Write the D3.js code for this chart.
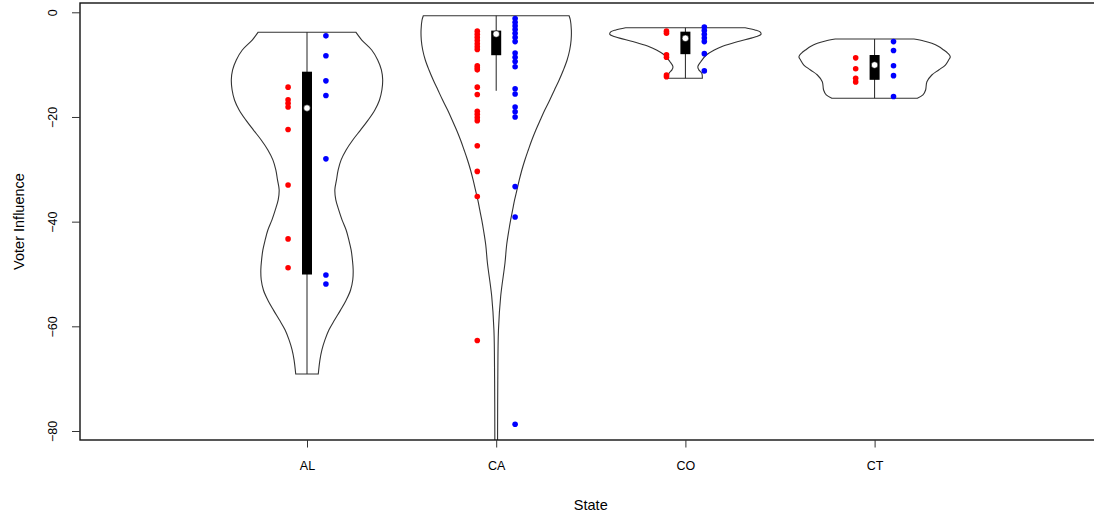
<!DOCTYPE html>
<html lang="en">
<head>
    <meta charset="UTF-8">
    <title>Voter Influence by State</title>
    <style>
        body {
            margin: 0;
            padding: 0;
            background-color: #ffffff;
        }
        svg {
            display: block;
            font-family: "Liberation Sans", Arial, sans-serif;
        }
        .violin {
            fill: #ffffff;
            stroke: #333333;
            stroke-width: 1.1px;
        }
        .whisker {
            stroke: #222222;
            stroke-width: 1px;
        }
        .box {
            fill: #000000;
        }
        .median {
            fill: #ffffff;
            stroke: #000000;
            stroke-width: 0.6px;
        }
        .frame {
            fill: none;
            stroke: #111111;
            stroke-width: 1.4px;
        }
        .axis path.domain {
            display: none;
        }
        .axis line {
            stroke: #333333;
        }
        .axis text {
            font-size: 12.5px;
            fill: #000000;
        }
        .axis-title {
            font-size: 14.5px;
            fill: #000000;
        }
    </style>
</head>
<body>
    <div class="chart"></div>

    <script src="https://d3js.org/d3.v7.min.js"></script>
    <script>
        const width = 1094;
        const height = 514;
        const plot = { left: 80, top: 3, right: 1102, bottom: 440 };

        // categories and axis ticks
        const states = ["AL", "CA", "CO", "CT"];
        const yTicks = [0, -20, -40, -60, -80];

        // points per state, split by colour group
        const alRed = [-14.3, -16.7, -17.4, -18.1, -22.4, -33.0, -43.3, -48.8];
        const alBlue = [-4.5, -8.3, -13.1, -15.9, -28.0, -50.2, -51.9];
        const caRed = [-3.6, -4.2, -4.8, -5.4, -6.0, -6.6, -7.1, -10.2, -10.6, -11.0, -14.3, -15.7,
                       -18.9, -19.5, -20.1, -20.7, -25.5, -30.4, -35.2, -62.7];
        const caBlue = [-1.2, -1.9, -2.6, -3.3, -4.0, -4.8, -5.6, -7.8, -8.6, -9.4, -10.4, -14.6,
                        -15.6, -18.1, -19.0, -20.0, -33.3, -39.1, -78.7];
        const coRed = [-3.6, -4.0, -8.1, -8.6, -12.0, -12.3];
        const coBlue = [-2.8, -3.5, -4.2, -4.9, -5.6, -7.9, -11.2];
        const ctRed = [-8.7, -10.8, -12.6, -13.3];
        const ctBlue = [-5.6, -7.3, -10.2, -12.1, -16.1];

        // violin outlines: [value, relative density (1 = widest)]
        const alProfile = [[-3.8, 0.645], [-5.3, 0.724], [-7.2, 0.855], [-9.1, 0.934], [-11.0, 0.983],
            [-12.9, 1], [-14.8, 0.99], [-16.8, 0.957], [-18.7, 0.895], [-20.6, 0.807], [-22.5, 0.707],
            [-24.4, 0.605], [-26.3, 0.517], [-28.2, 0.451], [-30.1, 0.412], [-32.0, 0.39], [-33.9, 0.368],
            [-35.8, 0.38], [-37.8, 0.42], [-39.7, 0.464], [-41.6, 0.517], [-43.5, 0.553], [-45.4, 0.583],
            [-47.3, 0.6], [-49.2, 0.61], [-51.1, 0.605], [-53.1, 0.575], [-55.0, 0.517], [-56.9, 0.443],
            [-58.8, 0.364], [-60.7, 0.289], [-62.6, 0.237], [-64.5, 0.197], [-66.4, 0.171], [-69.1, 0.149]];
        const caProfile = [[-0.65, 0.963], [-1.47, 0.98], [-3.38, 0.993], [-5.29, 0.99], [-7.2, 0.971],
            [-9.11, 0.937], [-11.02, 0.888], [-12.93, 0.832], [-14.85, 0.77], [-16.76, 0.708], [-18.67, 0.642],
            [-20.58, 0.582], [-22.49, 0.524], [-24.4, 0.471], [-26.31, 0.424], [-28.22, 0.379], [-30.13, 0.339],
            [-32.04, 0.305], [-33.95, 0.274], [-35.86, 0.243], [-37.77, 0.217], [-39.68, 0.191], [-41.59, 0.168],
            [-44.46, 0.138], [-47.9, 0.116], [-54.3, 0.059], [-60.7, 0.03], [-70.3, 0.021], [-81.7, 0.018],
            [-87.4, 0.017]];
        const coProfile = [[-2.96, 0.79], [-3.38, 0.92], [-3.76, 0.987], [-4.2, 1], [-4.72, 0.92], [-5.62, 0.684],
            [-6.44, 0.5], [-7.2, 0.382], [-8.16, 0.276], [-9.44, 0.204], [-10.4, 0.164], [-11.0, 0.178],
            [-11.65, 0.217], [-12.6, 0.224]];
        const ctProfile = [[-5.1, 0.52], [-5.48, 0.65], [-5.92, 0.756], [-6.53, 0.847], [-7.2, 0.913],
            [-7.78, 0.965], [-8.48, 1], [-9.11, 0.978], [-10.07, 0.935], [-11.02, 0.847], [-11.98, 0.756],
            [-13.26, 0.691], [-14.85, 0.674], [-15.8, 0.639], [-16.43, 0.565]];

        // box plot stats, in the order of states
        const whiskerLow = [-69.1, -15.0, -12.6, -16.4];
        const q1 = [-50.1, -8.2, -8.0, -12.9];
        const medians = [-18.3, -4.15, -4.97, -10.07];
        const q3 = [-11.35, -3.5, -3.7, -8.16];
        const whiskerHigh = [-3.8, -0.65, -2.96, -5.1];

        const redPoints = [alRed, caRed, coRed, ctRed];
        const bluePoints = [alBlue, caBlue, coBlue, ctBlue];
        const profiles = [alProfile, caProfile, coProfile, ctProfile];

        const x = d3.scalePoint()
            .domain(states)
            .range([307, 874.6]);
        const step = x.step();
        const violinHalf = 0.4 * step;
        const jitter = 0.1 * step;
        const boxHalf = 5;

        const y = d3.scaleLinear()
            .domain([-80, 0])
            .range([431, 12.3]);

        const svg = d3.select('.chart')
            .append('svg')
            .attr('width', width)
            .attr('height', height);

        svg.append('clipPath')
            .attr('id', 'plot-clip')
            .append('rect')
            .attr('x', plot.left)
            .attr('y', plot.top)
            .attr('width', plot.right - plot.left)
            .attr('height', plot.bottom - plot.top);

        const body = svg.append('g').attr('clip-path', 'url(#plot-clip)');

        const groups = body.selectAll('.state')
            .data(states)
            .enter().append('g')
            .attr('class', 'state');

        // violins
        groups.append('path')
            .attr('class', 'violin')
            .attr('d', (s, i) => d3.area()
                .curve(d3.curveCatmullRom.alpha(0.5))
                .y(d => y(d[0]))
                .x0(d => x(s) - d[1] * violinHalf)
                .x1(d => x(s) + d[1] * violinHalf)(profiles[i]));

        // whiskers
        groups.append('line')
            .attr('class', 'whisker')
            .attr('x1', s => x(s))
            .attr('x2', s => x(s))
            .attr('y1', (s, i) => y(whiskerHigh[i]))
            .attr('y2', (s, i) => y(whiskerLow[i]));

        // boxes
        groups.append('rect')
            .attr('class', 'box')
            .attr('x', s => x(s) - boxHalf)
            .attr('width', boxHalf * 2)
            .attr('y', (s, i) => y(q3[i]))
            .attr('height', (s, i) => y(q1[i]) - y(q3[i]));

        groups.append('circle')
            .attr('class', 'median')
            .attr('cx', s => x(s))
            .attr('cy', (s, i) => y(medians[i]))
            .attr('r', 3.3);

        // points
        groups.selectAll('.red')
            .data((s, i) => redPoints[i].map(v => ({ s, v })))
            .enter().append('circle')
            .attr('class', 'red')
            .attr('cx', d => x(d.s) - jitter)
            .attr('cy', d => y(d.v))
            .attr('r', 2.8)
            .attr('fill', '#ff0000');

        groups.selectAll('.blue')
            .data((s, i) => bluePoints[i].map(v => ({ s, v })))
            .enter().append('circle')
            .attr('class', 'blue')
            .attr('cx', d => x(d.s) + jitter)
            .attr('cy', d => y(d.v))
            .attr('r', 2.8)
            .attr('fill', '#0000ff');

        // frame
        svg.append('rect')
            .attr('class', 'frame')
            .attr('x', plot.left)
            .attr('y', plot.top)
            .attr('width', plot.right - plot.left)
            .attr('height', plot.bottom - plot.top);

        // axes
        const yAxis = svg.append('g')
            .attr('class', 'axis')
            .attr('transform', `translate(${plot.left},0)`)
            .call(d3.axisLeft(y).tickValues(yTicks).tickSize(8));
        yAxis.selectAll('text')
            .attr('x', 0)
            .attr('dy', '0.35em')
            .attr('text-anchor', 'middle')
            .attr('transform', 'translate(-27,0) rotate(-90)');

        svg.append('g')
            .attr('class', 'axis')
            .attr('transform', `translate(0,${plot.bottom})`)
            .call(d3.axisBottom(x).tickSize(7.5).tickPadding(14));

        svg.append('text')
            .attr('class', 'axis-title')
            .attr('text-anchor', 'middle')
            .attr('transform', `translate(18.5,${(plot.top + plot.bottom) / 2}) rotate(-90)`)
            .attr('dy', '0.35em')
            .text('Voter Influence');

        svg.append('text')
            .attr('class', 'axis-title')
            .attr('text-anchor', 'middle')
            .attr('x', x('CA') + step / 2)
            .attr('y', 505)
            .attr('dy', '0.35em')
            .text('State');
    </script>
</body>
</html>
